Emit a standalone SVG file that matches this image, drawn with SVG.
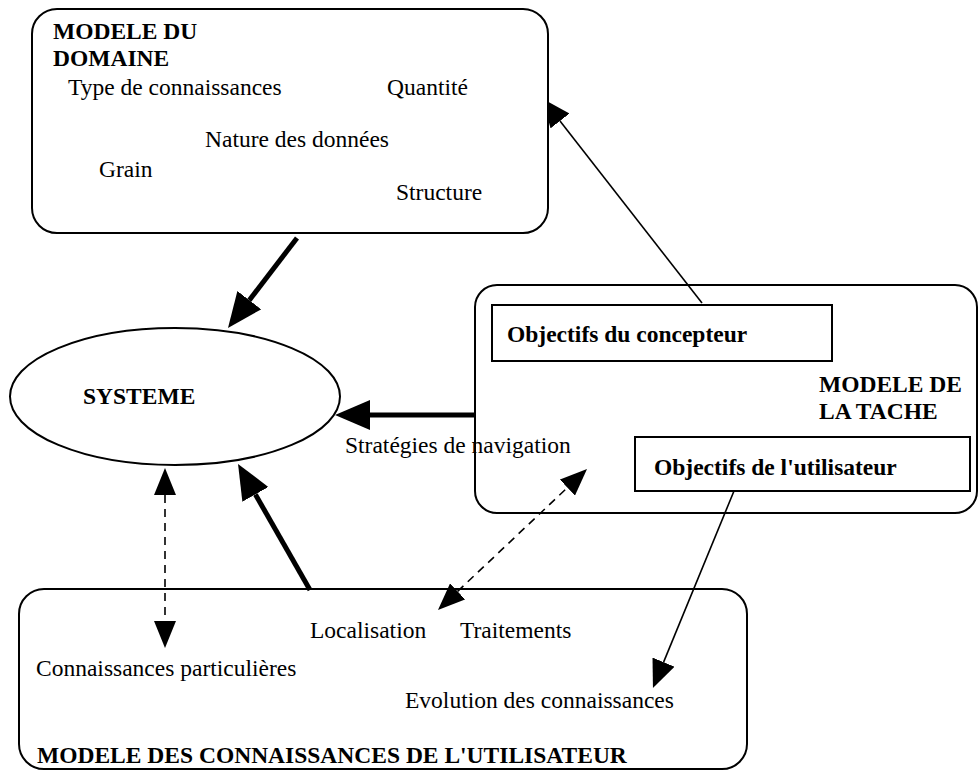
<svg xmlns="http://www.w3.org/2000/svg" width="979" height="771" viewBox="0 0 979 771">
<style>
text{font-family:"Liberation Serif","Times New Roman",serif;font-size:23.5px;fill:#000}
.b{font-weight:bold}
.box{fill:none;stroke:#000;stroke-width:2}
.thick{stroke:#000;stroke-width:5;fill:none}
.thin{stroke:#000;stroke-width:1.6;fill:none}
.dash{stroke:#000;stroke-width:1.6;fill:none;stroke-dasharray:8 6}
</style>
<defs>
<marker id="ahThick" markerUnits="userSpaceOnUse" viewBox="0 0 35 30" markerWidth="35" markerHeight="30" refX="0" refY="15" orient="auto"><path d="M0,0 L35,15 L0,30 z" fill="#000"/></marker>
<marker id="ahThin" markerUnits="userSpaceOnUse" viewBox="0 0 28 24" markerWidth="28" markerHeight="24" refX="0" refY="12" orient="auto"><path d="M0,0 L28,12 L0,24 z" fill="#000"/></marker>
<marker id="ahDash" markerUnits="userSpaceOnUse" viewBox="0 0 27 22" markerWidth="27" markerHeight="22" refX="0" refY="11" orient="auto-start-reverse"><path d="M0,0 L27,11 L0,22 z" fill="#000"/></marker>
<clipPath id="outsideDomain"><rect x="549" y="0" width="430" height="771"/></clipPath>
</defs>

<g id="domaine">
<rect class="box" x="32" y="9" width="516" height="224" rx="25"/>
<text class="b" x="53" y="39">MODELE DU</text>
<text class="b" x="53" y="66">DOMAINE</text>
<text x="68" y="95">Type de connaissances</text>
<text x="387" y="95">Quantité</text>
<text x="205" y="147">Nature des données</text>
<text x="99" y="177">Grain</text>
<text x="396" y="200">Structure</text>
</g>

<g id="systeme">
<ellipse class="box" cx="175" cy="396.5" rx="165" ry="68.5"/>
<text class="b" x="83" y="404">SYSTEME</text>
</g>

<g id="tache">
<rect class="box" x="475" y="285" width="502" height="228" rx="22"/>
<text class="b" x="819" y="392">MODELE DE</text>
<text class="b" x="819" y="419">LA TACHE</text>
</g>

<g id="objectifs-concepteur">
<rect class="box" x="492" y="305" width="340" height="56"/>
<text class="b" x="507" y="342">Objectifs du concepteur</text>
</g>

<g id="objectifs-utilisateur">
<rect class="box" x="635" y="437" width="335" height="54"/>
<text class="b" x="654" y="475">Objectifs de l'utilisateur</text>
</g>

<g id="utilisateur">
<rect class="box" x="19" y="589" width="728" height="180" rx="25"/>
<text x="310" y="638">Localisation</text>
<text x="460" y="638">Traitements</text>
<text x="36" y="676">Connaissances particulières</text>
<text x="405" y="708">Evolution des connaissances</text>
<text class="b" x="37" y="763">MODELE DES CONNAISSANCES DE L'UTILISATEUR</text>
</g>

<g id="connecteurs">
<line class="thick" x1="297" y1="238" x2="249.3" y2="300.2" marker-end="url(#ahThick)"/>
<line class="thick" x1="475" y1="415" x2="370" y2="415" marker-end="url(#ahThick)"/>
<line class="thick" x1="310" y1="590" x2="255.4" y2="494.4" marker-end="url(#ahThick)"/>
<g clip-path="url(#outsideDomain)">
<line class="thin" x1="702" y1="303" x2="560" y2="121" marker-end="url(#ahThin)"/>
</g>
<line class="thin" x1="734" y1="491" x2="663.6" y2="662.1" marker-end="url(#ahThin)"/>
<line class="dash" x1="165" y1="495" x2="165" y2="621" marker-start="url(#ahDash)" marker-end="url(#ahDash)"/>
<line class="dash" x1="457.6" y1="591.4" x2="567.4" y2="487.6" marker-start="url(#ahDash)" marker-end="url(#ahDash)"/>
<text x="345" y="453">Stratégies de navigation</text>
</g>
</svg>
